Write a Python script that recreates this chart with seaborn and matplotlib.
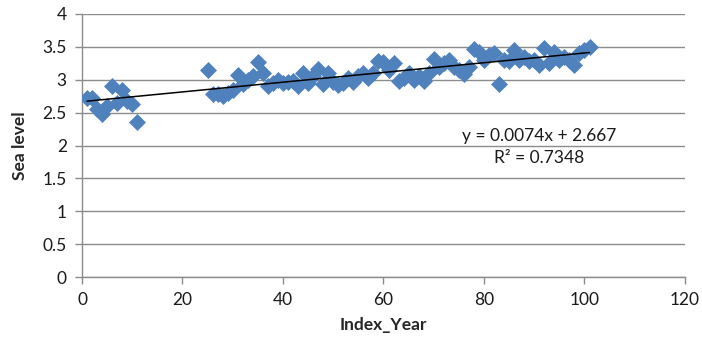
import numpy as np
import pandas as pd
import seaborn as sns
import matplotlib
matplotlib.use("Agg")
import matplotlib.pyplot as plt

# Index of the year and the recorded sea level
index_year = [1, 2, 3, 4, 5, 6, 7, 8, 9, 10, 11,
              25, 26, 27, 28, 29, 30, 31, 32, 33, 34, 35, 36, 37, 38, 39, 40,
              41, 42, 43, 44, 45, 46, 47, 48, 49, 50, 51, 52, 53, 54, 55, 56,
              57, 58, 59, 60, 61, 62, 63, 64, 65, 66, 67, 68, 69, 70, 71, 72,
              73, 74, 75, 76, 77, 78, 79, 80, 81, 82, 83, 84, 85, 86, 87, 88,
              89, 90, 91, 92, 93, 94, 95, 96, 97, 98, 99, 100, 101]
sea_level = [2.72, 2.73, 2.55, 2.48, 2.60, 2.90, 2.65, 2.85, 2.68, 2.63, 2.35,
             3.15, 2.78, 2.78, 2.76, 2.80, 2.85, 3.07, 2.93, 3.00, 3.05, 3.27,
             3.10, 2.90, 2.95, 3.00, 2.95, 2.97, 2.98, 2.90, 3.10, 2.95, 3.05,
             3.17, 2.93, 3.10, 2.97, 2.92, 2.95, 3.03, 2.97, 3.05, 3.10, 3.03,
             3.10, 3.28, 3.27, 3.15, 3.25, 2.98, 3.02, 3.10, 3.00, 3.05, 2.98,
             3.10, 3.32, 3.20, 3.25, 3.30, 3.20, 3.15, 3.08, 3.20, 3.47, 3.42,
             3.30, 3.38, 3.40, 2.93, 3.30, 3.28, 3.45, 3.30, 3.35, 3.28, 3.30,
             3.22, 3.48, 3.25, 3.42, 3.30, 3.35, 3.30, 3.22, 3.40, 3.45, 3.50]

# Linear trendline coefficients as reported on the chart
slope = 0.0074
intercept = 2.667
r_squared = 0.7348

x_ticks = [0, 20, 40, 60, 80, 100, 120]
y_ticks = [0, 0.5, 1, 1.5, 2, 2.5, 3, 3.5, 4]
y_tick_labels = ["0", "0.5", "1", "1.5", "2", "2.5", "3", "3.5", "4"]

df = pd.DataFrame({"Index_Year": index_year, "Sea level": sea_level})

sns.set_theme(style="white")
plt.rcParams["font.family"] = ["Lato", "DejaVu Sans"]

grid_color = "#8c8c8c"
fs = 12.5
fig = plt.figure(figsize=(7.02, 3.47), dpi=100)
ax = fig.add_axes([82 / 702, 1 - 277 / 347, (685 - 82) / 702, (277 - 14) / 347])

sns.scatterplot(data=df, x="Index_Year", y="Sea level", ax=ax,
                marker="D", s=66, color="#4f81bd", edgecolor="#4f81bd",
                linewidth=0.5, zorder=3, legend=False)

trend_x = np.array([min(index_year), max(index_year)])
sns.lineplot(x=trend_x, y=slope * trend_x + intercept, ax=ax,
             color="black", linewidth=1.1, zorder=4)

ax.set_xlim(0, 120)
ax.set_ylim(0, 4)
ax.set_xticks(x_ticks)
ax.set_yticks(y_ticks)
ax.set_yticklabels(y_tick_labels)
ax.yaxis.grid(True, color=grid_color, linewidth=1.0)
ax.set_axisbelow(True)

for side in ["top", "right"]:
    ax.spines[side].set_visible(False)
for side in ["left", "bottom"]:
    ax.spines[side].set_color(grid_color)
    ax.spines[side].set_linewidth(1.0)

ax.tick_params(axis="both", which="major", direction="out", length=5,
               width=1.0, color=grid_color, labelsize=fs, labelcolor="#1a1a1a",
               bottom=True, left=True)
ax.tick_params(axis="x", pad=6)
ax.tick_params(axis="y", pad=6)

ax.set_xlabel("Index_Year", fontsize=fs, fontweight="bold", labelpad=6)
ax.set_ylabel("Sea level", fontsize=fs, fontweight="bold", labelpad=10)

ax.text(91.0, 2.14, f"y = {slope}x + {intercept}", ha="center", va="center",
        fontsize=fs, color="#1a1a1a", zorder=5)
ax.text(91.0, 1.81, f"R² = {r_squared}", ha="center", va="center",
        fontsize=fs, color="#1a1a1a", zorder=5)

fig.savefig("out.png", dpi=100)
